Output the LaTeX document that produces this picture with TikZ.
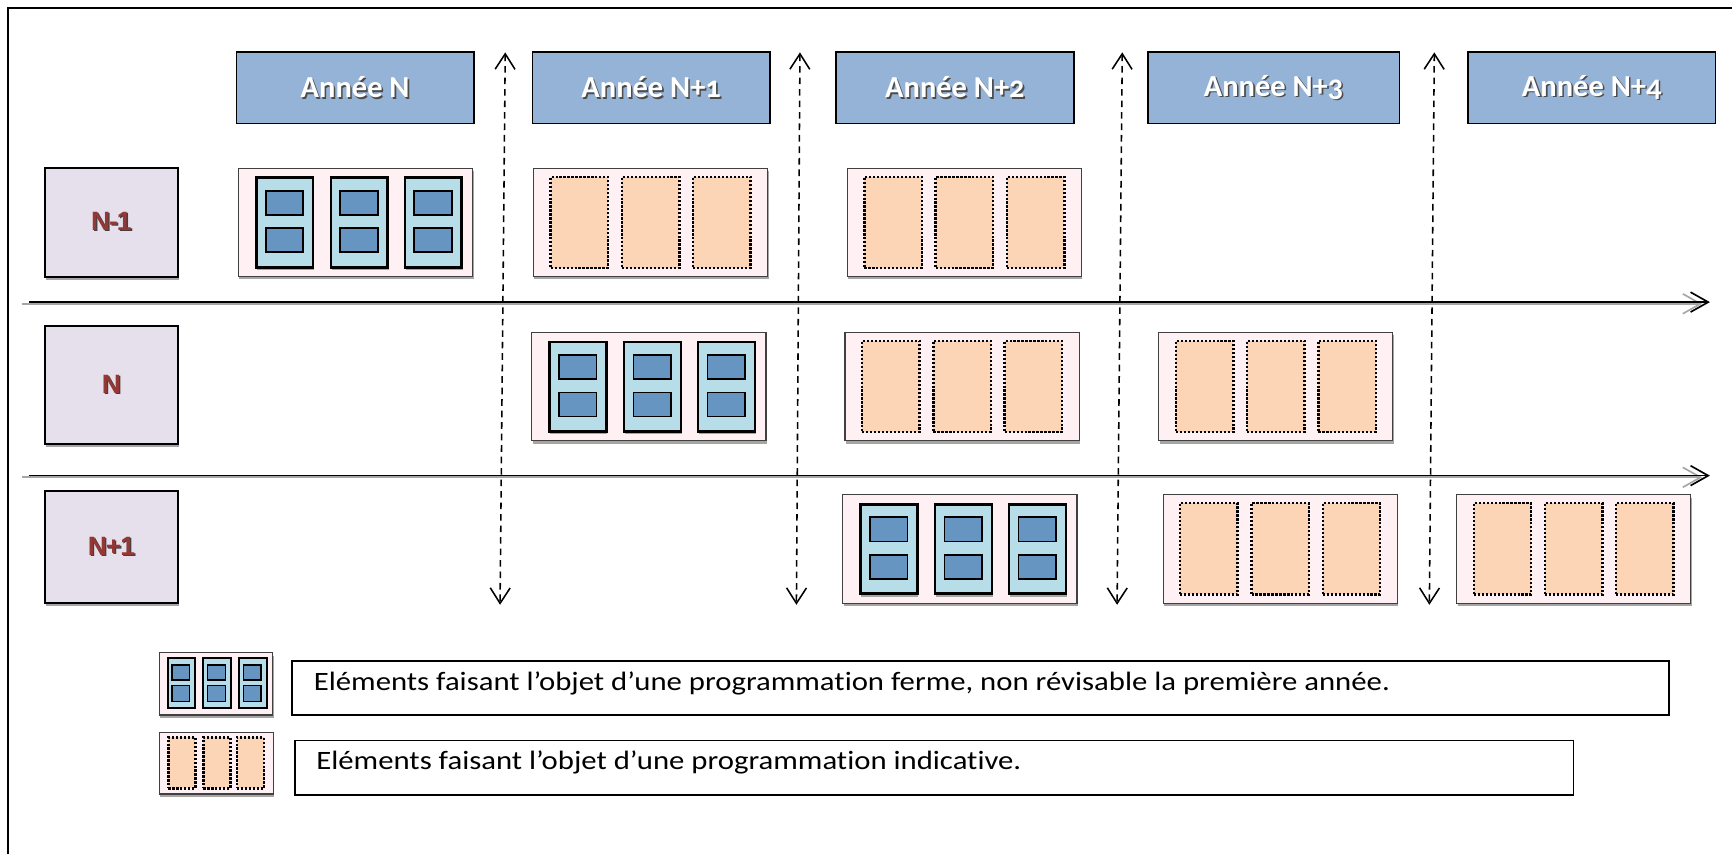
\documentclass[tikz,border=0pt]{standalone}
\usepackage{fontspec}
\setmainfont{Carlito}
\newfontfamily\hdrfont{Carlito}[Numbers=OldStyle]
\newfontfamily\legfont{Carlito}[FakeStretch=1.16, Ligatures=NoCommon]
\newfontfamily\lblfont{Liberation Sans}[LetterSpace=-4.0]
\usetikzlibrary{arrows.meta,shadows}
\definecolor{hdrfill}{RGB}{149,179,215}
\definecolor{rowfill}{RGB}{229,224,236}
\definecolor{rowtext}{RGB}{149,55,53}
\definecolor{grpfill}{RGB}{255,240,243}
\definecolor{firmfill}{RGB}{183,221,232}
\definecolor{firminner}{RGB}{103,149,194}
\definecolor{indfill}{RGB}{251,213,181}
\definecolor{shd}{RGB}{165,165,165}
\newcommand\shtext[4]{\rlap{\kern#4\raisebox{-#4}{\textcolor{#2}{#3}}}\textcolor{#1}{#3}}
\newcommand\rbox[7]{\node[#1, inner sep=0pt, outer sep=0pt, minimum width={((#5)-(#3))*0.5pt}, minimum height={((#6)-(#4))*0.5pt}] (#2) at ({((#3)+(#5))/2},{((#4)+(#6))/2}) {#7};}
\newcommand\firmgroup[3]{%
  \rbox{grp}{#1}{#2}{#3}{#2+212}{#3+98}{}
  \foreach \i/\dx in {1/16,2/83.5,3/150.5}{%
    \rbox{firmcard}{#1c\i}{#2+\dx}{#3+8.5}{#2+\dx+51.5}{#3+89.5}{}
    \rbox{firmin}{#1a\i}{#2+\dx+8.5}{#3+20.2}{#2+\dx+42.5}{#3+42.2}{}
    \rbox{firmin}{#1b\i}{#2+\dx+8.5}{#3+54.3}{#2+\dx+42.5}{#3+76}{}
  }}
\newcommand\indgroup[3]{%
  \rbox{grp}{#1}{#2}{#3}{#2+212}{#3+98}{}
  \foreach \i/\dx in {1/15.5,2/80,3/144.5}{%
    \rbox{indcard}{#1c\i}{#2+\dx}{#3+7.6}{#2+\dx+52}{#3+90}{}
  }}
\tikzset{
  shdw/.style={drop shadow={shadow xshift=0.4pt, shadow yshift=-1.3pt, fill=shd, opacity=1}},
  hdr/.style={draw=black, line width=0.8pt, fill=hdrfill, font=\hdrfont\bfseries\fontsize{13.8}{16}\selectfont},
  rowlbl/.style={draw=black, line width=0.8pt, fill=rowfill, shdw, font=\lblfont\bfseries\fontsize{12}{14}\selectfont},
  grp/.style={draw=black!75, line width=0.5pt, fill=grpfill, shdw},
  firmcard/.style={draw=black, line width=1.2pt, fill=firmfill, shdw},
  firmin/.style={draw=black, line width=0.8pt, fill=firminner},
  smallfirmcard/.style={draw=black, line width=0.9pt, fill=firmfill},
  smallfirmin/.style={draw=black, line width=0.6pt, fill=firminner},
  indcard/.style={draw=black, line width=1.1pt, dash pattern=on 1pt off 0.8pt, fill=indfill},
  legbox/.style={draw=black, line width=0.8pt, fill=white},
  legtext/.style={font=\legfont\fontsize{12}{14}\selectfont, inner sep=0pt, anchor=base west},
  haxis/.style={line width=0.75pt, -{Straight Barb[length=8pt,width=9pt]}},
  haxshd/.style={line width=0.75pt, draw=black!35, -{Straight Barb[length=8pt,width=9pt]}},
  vaxis/.style={line width=0.7pt, dash pattern=on 3pt off 2.2pt, {Straight Barb[length=7pt,width=9pt]}-{Straight Barb[length=7pt,width=9pt]}},
}
\begin{document}
\begin{tikzpicture}[x=0.5pt,y=-0.5pt]
\useasboundingbox (0,0) rectangle (1568,773);
% outer frame (only left and top edges visible)
\draw[line width=0.9pt] (7.1,773) -- (7.1,7.5) -- (1568,7.5);

% headers
\rbox{hdr}{hN}{214}{47.4}{429}{111.7}{\shtext{white}{black!70}{Année N}{0.7pt}}
\rbox{hdr}{hN1}{482}{47.4}{697}{111.7}{\shtext{white}{black!70}{Année N+1}{0.7pt}}
\rbox{hdr}{hN2}{757}{47.4}{972}{111.7}{\shtext{white}{black!70}{Année N+2}{0.7pt}}
\rbox{hdr}{hN3}{1039}{47.4}{1267}{111.7}{\shtext{white}{black!70}{Année N+3}{0.7pt}}
\rbox{hdr}{hN4}{1329}{47.4}{1553}{111.7}{\shtext{white}{black!70}{Année N+4}{0.7pt}}

% row labels
\rbox{rowlbl}{rNm1}{40.4}{151.8}{161.3}{250.5}{\shtext{rowtext}{black!75}{N-1}{0.6pt}}
\rbox{rowlbl}{rN}{40.4}{294.8}{161.3}{401.7}{\shtext{rowtext}{black!75}{N}{0.6pt}}
\rbox{rowlbl}{rNp1}{40.4}{444.5}{161.3}{546.2}{\shtext{rowtext}{black!75}{N+1}{0.6pt}}

% horizontal axes
\coordinate (a1s) at (26.5,273.5);
\coordinate (a1e) at (1548,273.5);
\coordinate (a1ss) at (19.5,275);
\coordinate (a1se) at (1541,275);
\coordinate (a2s) at (26.5,430.6);
\coordinate (a2e) at (1548,430.6);
\coordinate (a2ss) at (19.5,432.1);
\coordinate (a2se) at (1541,432.1);
\draw[haxshd] (a1ss) -- (a1se);
\draw[haxis] (a1s) -- (a1e);
\draw[haxshd] (a2ss) -- (a2se);
\draw[haxis] (a2s) -- (a2e);

% groups row N-1
\firmgroup{g11}{216}{152.4}
\indgroup{g12}{483}{152.4}
\indgroup{g13}{767}{152.4}
% groups row N
\firmgroup{g21}{481.5}{301}
\indgroup{g22}{765}{301}
\indgroup{g23}{1049}{301}
% groups row N+1
\firmgroup{g31}{763}{448}
\indgroup{g32}{1053}{448}
\indgroup{g33}{1318.7}{448}

% vertical dashed arrows
\coordinate (v1t) at (457.4,47.4);
\coordinate (v1b) at (452.7,547.5);
\coordinate (v2t) at (724.2,47.4);
\coordinate (v2b) at (721,547.5);
\coordinate (v3t) at (1016,47.4);
\coordinate (v3b) at (1011.3,547.5);
\coordinate (v4t) at (1298.5,47.4);
\coordinate (v4b) at (1294,547.5);
\draw[vaxis] (v1t) -- (v1b);
\draw[vaxis] (v2t) -- (v2b);
\draw[vaxis] (v3t) -- (v3b);
\draw[vaxis] (v4t) -- (v4b);

% legend: firm icon
\rbox{grp}{lf}{144}{591}{247}{647.3}{}
\foreach \i/\cx in {1/151.8,2/184.1,3/216.4}{%
  \rbox{smallfirmcard}{lfc\i}{\cx}{596}{\cx+25}{641.2}{}
  \rbox{smallfirmin}{lfa\i}{\cx+4}{602}{\cx+20}{615.6}{}
  \rbox{smallfirmin}{lfb\i}{\cx+4}{620.7}{\cx+20}{635.2}{}
}
% legend: indicative icon
\rbox{grp}{li}{144}{663.3}{247.5}{718.8}{}
\foreach \i/\cx in {1/152.4,2/184.1,3/214.3}{%
  \rbox{indcard}{lic\i}{\cx}{667.5}{\cx+24.5}{713.7}{}
}
% legend texts
\rbox{legbox}{lb1}{264.6}{598.1}{1511.2}{647.3}{}
\rbox{legbox}{lb2}{267}{670.3}{1424.4}{720}{}
\node[legtext] (lt1) at (283.7,624.7) {Eléments faisant l’objet d’une programmation ferme, non révisable la première année.};
\node[legtext] (lt2) at (286,696.5) {Eléments faisant l’objet d’une programmation indicative.};
\end{tikzpicture}
\end{document}
